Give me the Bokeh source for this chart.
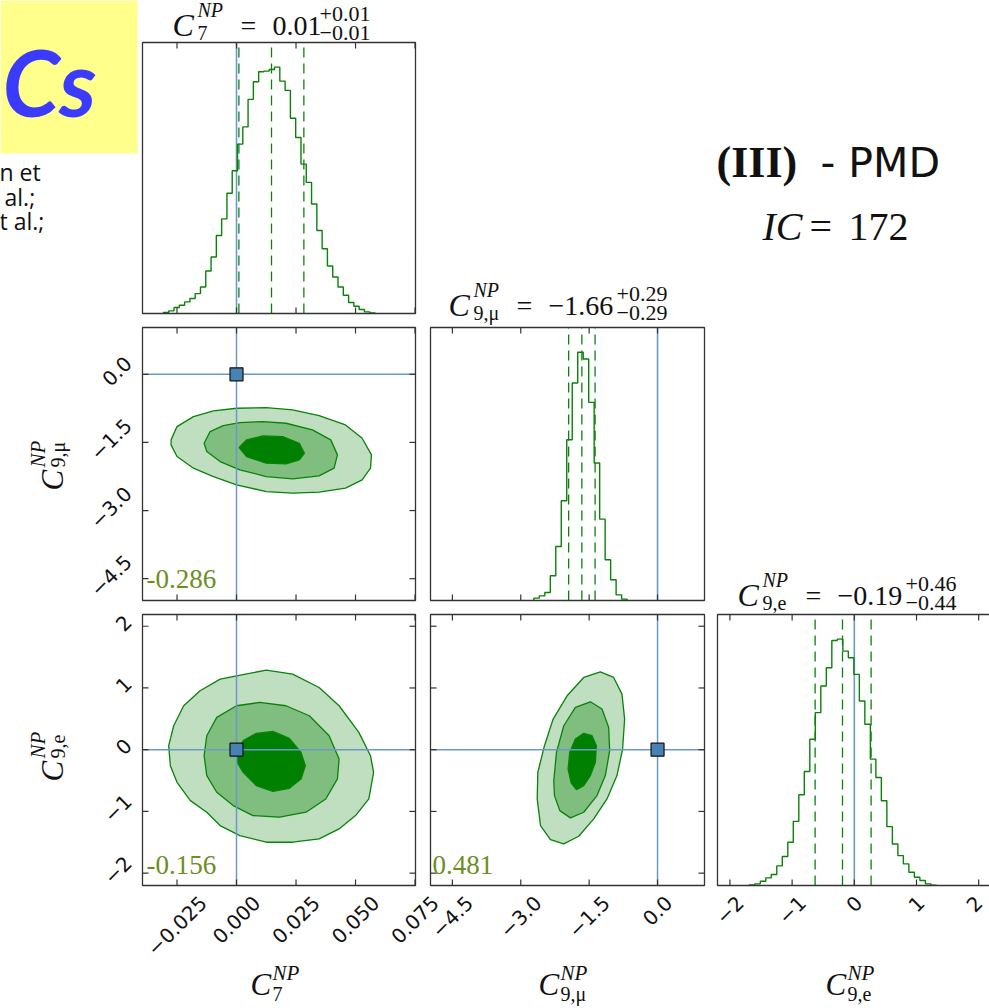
import math
import numpy as np
from bokeh.plotting import figure
from bokeh.models import Range1d, Label
from bokeh.embed import file_html
from bokeh.resources import INLINE

# ---------------------------------------------------------------- data
truth_c7 = 0.0
truth_c9mu = 0.0
truth_c9e = 0.0

c7_range = (-0.0395, 0.0752)
c9mu_range = (-4.98, 1.03)
c9e_range = (-2.20, 2.19)

c7_ticks = [-0.025, 0.0, 0.025, 0.05, 0.075]
c7_tick_labels = ["−0.025", "0.000", "0.025", "0.050", "0.075"]
c9mu_ticks = [-4.5, -3.0, -1.5, 0.0]
c9mu_tick_labels = ["−4.5", "−3.0", "−1.5", "0.0"]
c9e_ticks = [-2, -1, 0, 1, 2]
c9e_tick_labels = ["−2", "−1", "0", "1", "2"]

# 1-D marginal histograms (bin span and relative counts)
c7_hist_lo, c7_hist_hi = -0.0307, 0.0582
c7_hist = [3, 8, 18, 25, 35, 45, 60, 80, 128, 170, 235, 285, 362, 430, 510, 562,
           645, 698, 728, 730, 735, 742, 700, 672, 588, 530, 450, 395, 330, 250,
           195, 143, 110, 80, 55, 33, 22, 12, 5, 2]
c7_quantiles = [0.001, 0.0147, 0.0283]

c9mu_hist_lo, c9mu_hist_hi = -2.713, -0.668
c9mu_hist = [7, 14, 24, 74, 162, 299, 482, 652, 744, 724, 594, 412, 244, 122, 62, 17, 4]
c9mu_quantiles = [-1.95, -1.66, -1.37]

c9e_hist_lo, c9e_hist_hi = -1.689, 1.320
c9e_hist = [2, 5, 13, 23, 33, 59, 87, 130, 193, 273, 343, 440, 520, 600, 655, 737,
            741, 705, 685, 635, 555, 485, 380, 325, 255, 177, 125, 90, 65, 40, 25,
            15, 5, 1]
c9e_quantiles = [-0.63, -0.19, 0.27]

# titles (median, +err, -err)
c7_title = ("0.01", "+0.01", "−0.01")
c9mu_title = ("−1.66", "+0.29", "−0.29")
c9e_title = ("−0.19", "+0.46", "−0.44")

# correlation coefficients
corr_c7_c9mu = "-0.286"
corr_c7_c9e = "-0.156"
corr_c9mu_c9e = "0.481"

# 2-D credible contours (outer, middle, inner)  -- C9mu vs C7
c7_c9mu_outer_x = [-0.0275, -0.0250, -0.0181, -0.0097, 0.0, 0.0125, 0.0236, 0.0347, 0.0458,
                   0.0528, 0.0567, 0.0563, 0.0528, 0.0458, 0.0347, 0.0236, 0.0125, 0.0,
                   -0.0097, -0.0181, -0.0250, -0.0275]
c7_c9mu_outer_y = [-1.444, -1.151, -0.931, -0.806, -0.748, -0.733, -0.784, -0.909, -1.114,
                   -1.408, -1.774, -2.067, -2.324, -2.507, -2.595, -2.617, -2.581, -2.434,
                   -2.251, -2.067, -1.811, -1.554]
c7_c9mu_mid_x = [-0.0136, -0.0111, -0.0056, 0.0014, 0.0111, 0.0208, 0.0319, 0.0396, 0.0424,
                 0.0410, 0.0347, 0.0236, 0.0125, 0.0014, -0.0069, -0.0125]
c7_c9mu_mid_y = [-1.518, -1.261, -1.129, -1.063, -1.041, -1.078, -1.224, -1.444, -1.774,
                 -2.067, -2.236, -2.302, -2.251, -2.104, -1.921, -1.701]
c7_c9mu_in_x = [0.0011, 0.0042, 0.0111, 0.0194, 0.0264, 0.0285, 0.0264, 0.0208, 0.0125, 0.0042]
c7_c9mu_in_y = [-1.613, -1.444, -1.356, -1.371, -1.518, -1.738, -1.884, -1.972, -1.957, -1.811]

# C9e vs C7
c7_c9e_outer_x = [-0.0285, -0.0264, -0.0222, -0.0153, -0.0069, 0.0, 0.0125, 0.0236, 0.0347,
                  0.0431, 0.0514, 0.0563, 0.0576, 0.0556, 0.0500, 0.0431, 0.0347, 0.0236,
                  0.0125, 0.0014, -0.0069, -0.0125, -0.0194, -0.0250, -0.0278]
c7_c9e_outer_y = [0.065, 0.388, 0.712, 0.954, 1.143, 1.197, 1.288, 1.224, 1.008, 0.712, 0.280,
                  -0.097, -0.367, -0.798, -1.067, -1.283, -1.445, -1.499, -1.499, -1.391,
                  -1.229, -1.013, -0.825, -0.528, -0.259]
c7_c9e_mid_x = [-0.0136, -0.0125, -0.0083, 0.0, 0.0097, 0.0208, 0.0306, 0.0389, 0.0431,
                0.0424, 0.0375, 0.0292, 0.0181, 0.0069, -0.0014, -0.0083, -0.0125]
c7_c9e_mid_y = [-0.097, 0.226, 0.523, 0.712, 0.765, 0.712, 0.550, 0.226, -0.151, -0.474,
                -0.798, -1.013, -1.094, -1.067, -0.906, -0.690, -0.420]
c7_c9e_in_x = [0.0003, 0.0028, 0.0083, 0.0153, 0.0222, 0.0271, 0.0289, 0.0271, 0.0222,
               0.0153, 0.0083, 0.0028, 0.0003]
c7_c9e_in_y = [-0.043, 0.146, 0.264, 0.296, 0.183, -0.043, -0.259, -0.474, -0.625, -0.674,
               -0.582, -0.367, -0.205]

# C9e vs C9mu
c9mu_c9e_outer_x = [-2.640, -2.626, -2.480, -2.290, -1.984, -1.619, -1.255, -0.963, -0.780,
                    -0.722, -0.766, -0.890, -1.109, -1.400, -1.729, -2.057, -2.349, -2.567]
c9mu_c9e_outer_y = [-0.798, -0.367, 0.065, 0.496, 0.873, 1.170, 1.261, 1.170, 0.900, 0.496,
                    0.011, -0.420, -0.798, -1.121, -1.402, -1.526, -1.456, -1.229]
c9mu_c9e_mid_x = [-2.276, -2.217, -2.057, -1.802, -1.473, -1.218, -1.072, -1.050, -1.145,
                  -1.328, -1.619, -1.911, -2.144, -2.261]
c9mu_c9e_mid_y = [-0.501, -0.043, 0.388, 0.685, 0.776, 0.658, 0.361, -0.016, -0.420, -0.744,
                  -1.013, -1.105, -0.987, -0.744]
c9mu_c9e_in_x = [-1.962, -1.926, -1.802, -1.619, -1.437, -1.342, -1.364, -1.473, -1.619,
                 -1.780, -1.896]
c9mu_c9e_in_y = [-0.313, -0.043, 0.173, 0.264, 0.226, 0.065, -0.205, -0.420, -0.582, -0.647,
                 -0.539]

# ---------------------------------------------------------------- style
GREEN = "#0a820a"
LIGHT = "#c0dec0"
MID = "#80be80"
DARK = "#008000"
TRUTH = "#6b9ac4"
FRAME = "#333333"
CORR = "#6b8e23"
SERIF = "Liberation Serif"
SANS = "DejaVu Sans"
TICK_FS = 20
W, H = 989, 1008

CW = {".": 0.318, "−": 0.838}
MIDK = {SERIF: 0.34, SANS: 0.35, "Lato": 0.38, "Open Sans": 0.37}


def tlen(s, f):
    return sum(CW.get(c, 0.636) for c in s) * f


# one page-sized canvas; each corner panel gets its own pair of scales
p = figure(width=W, height=H, x_range=Range1d(0, W), y_range=Range1d(H, 0),
           output_backend="svg", toolbar_location=None,
           x_axis_type=None, y_axis_type=None, min_border=0)
p.outline_line_color = None
p.background_fill_color = "white"
p.border_fill_color = "white"


class Panel:
    def __init__(self, name, box, xr, yr):
        L, R, T, B = box
        self.box, self.xr, self.yr = box, xr, yr
        sx = (xr[1] - xr[0]) / (R - L)
        sy = (yr[1] - yr[0]) / (B - T)
        self.xn, self.yn = name + "_x", name + "_y"
        p.extra_x_ranges[self.xn] = Range1d(xr[0] - L * sx, xr[0] + (W - L) * sx)
        p.extra_y_ranges[self.yn] = Range1d(yr[0] + (B - H) * sy, yr[0] + B * sy)
        self.kw = dict(x_range_name=self.xn, y_range_name=self.yn)

    def px(self, v):
        L, R = self.box[0], self.box[1]
        return L + (v - self.xr[0]) / (self.xr[1] - self.xr[0]) * (R - L)

    def frame(self):
        p.quad(left=[self.xr[0]], right=[self.xr[1]], bottom=[self.yr[0]], top=[self.yr[1]],
               fill_color=None, line_color=FRAME, line_width=1.3, **self.kw)

    def xticks(self, ticks):
        n = len(ticks)
        p.ray(x=ticks, y=[self.yr[0]] * n, length=6, length_units="screen",
              angle=math.pi / 2, line_color=FRAME, line_width=1.2, **self.kw)
        p.ray(x=ticks, y=[self.yr[1]] * n, length=6, length_units="screen",
              angle=-math.pi / 2, line_color=FRAME, line_width=1.2, **self.kw)

    def yticks(self, ticks):
        n = len(ticks)
        p.ray(x=[self.xr[0]] * n, y=ticks, length=6, length_units="screen",
              angle=0.0, line_color=FRAME, line_width=1.2, **self.kw)
        p.ray(x=[self.xr[1]] * n, y=ticks, length=6, length_units="screen",
              angle=math.pi, line_color=FRAME, line_width=1.2, **self.kw)

    def bottom_labels(self, ticks, labels):
        B = self.box[3]
        for t, s in zip(ticks, labels):
            L = tlen(s, TICK_FS)
            Yc = B + 9 + 0.707 * (L + 0.73 * TICK_FS) / 2
            half = 0.707 * (L + 1.2 * TICK_FS) / 2
            over = self.px(t) + half - (W - 2)
            p.add_layout(Label(x=t, y=Yc, x_range_name=self.xn, text=s,
                               angle=math.pi / 4, text_align="center",
                               text_baseline="middle", text_font=SANS,
                               text_font_size=f"{TICK_FS}px", text_color="#111111",
                               x_offset=-over if over > 0 else 0))

    def left_labels(self, ticks, labels):
        Lx = self.box[0]
        for t, s in zip(ticks, labels):
            L = tlen(s, TICK_FS)
            Xc = Lx - 9 - 0.707 * (L + 0.73 * TICK_FS) / 2
            p.add_layout(Label(x=Xc, y=t, y_range_name=self.yn, text=s,
                               angle=math.pi / 4, text_align="center",
                               text_baseline="middle", text_font=SANS,
                               text_font_size=f"{TICK_FS}px", text_color="#111111",
                               y_offset=3))


def text(s, X, Y, size, font=SERIF, style="normal", color="#111111", rotated=False):
    """(X, Y) is the start of the alphabetic baseline, in page pixels."""
    k = MIDK.get(font, 0.35) * size
    if rotated:
        X, angle = X - 0.3 * k, math.pi / 2
    else:
        Y, angle = Y - k, 0.0
    p.add_layout(Label(x=X, y=Y, text=s, text_font=font, text_font_size=f"{size}px",
                       text_font_style=style, text_color=color, angle=angle,
                       text_align="left", text_baseline="middle"))


def draw_hist(pan, lo, hi, heights, quants, truth):
    edges = np.linspace(lo, hi, len(heights) + 1)
    xs = np.concatenate([[edges[0]], edges])
    ys = np.concatenate([[0], heights, [0]])
    top = pan.yr[1]
    p.segment(x0=[truth], y0=[0], x1=[truth], y1=[top], line_color=TRUTH,
              line_width=1.6, **pan.kw)
    p.step(xs, ys, mode="after", line_color=GREEN, line_width=1.4, **pan.kw)
    n = len(quants)
    p.segment(x0=quants, y0=[0] * n, x1=quants, y1=[top] * n, line_color=GREEN,
              line_width=1.3, line_dash="10 6", **pan.kw)


def draw_2d(pan, contours, tx, ty):
    for (cx, cy), col in zip(contours, [LIGHT, MID, DARK]):
        p.patch(cx, cy, fill_color=col, line_color=GREEN, line_width=1.3, **pan.kw)
    p.segment(x0=[tx, pan.xr[0]], y0=[pan.yr[0], ty], x1=[tx, pan.xr[1]],
              y1=[pan.yr[1], ty], line_color=TRUTH, line_width=1.5, **pan.kw)
    p.scatter([tx], [ty], marker="square", size=13, fill_color="#4682b4",
              line_color="#111111", line_width=1.2, **pan.kw)


def title_math(X, Y, sub, vals):
    main, up, lo = vals
    text("C", X, Y, 32, style="italic")
    text("NP", X + 25, Y - 19, 20, style="italic")
    text(sub, X + 25, Y + 4, 20)
    text("=", X + 68, Y, 28)
    text(main, X + 100, Y, 28)
    xs = X + 100 + (47 if main[0] != "−" else 68)
    text(up, xs, Y - 14, 22)
    text(lo, xs, Y + 5, 22)


def axis_math(X, Y, sub):
    text("C", X, Y, 31, style="italic")
    text("NP", X + 22, Y - 15, 21, style="italic")
    text(sub, X + 22, Y + 5, 20)


def axis_math_rot(X, Y, sub):
    text("C", X, Y, 31, style="italic", rotated=True)
    text("NP", X - 15, Y - 23, 21, style="italic", rotated=True)
    text(sub, X + 5, Y - 23, 20, rotated=True)


# ---------------------------------------------------------------- panels
y_c7 = (0, 1.1 * max(c7_hist))
y_c9mu = (0, 1.1 * max(c9mu_hist))
y_c9e = (0, 1.1 * max(c9e_hist))

P11 = Panel("p11", (142, 415, 42, 313), c7_range, y_c7)
P21 = Panel("p21", (142, 415, 327, 600), c7_range, c9mu_range)
P31 = Panel("p31", (142, 415, 614, 885), c7_range, c9e_range)
P22 = Panel("p22", (430, 704, 327, 600), c9mu_range, y_c9mu)
P32 = Panel("p32", (430, 704, 614, 885), c9mu_range, c9e_range)
P33 = Panel("p33", (717, 990, 614, 885), c9e_range, y_c9e)

# slide fragment at top-left
p.quad(left=[0], right=[137], top=[0], bottom=[153], fill_color="#ffff8c", line_color=None)
text("Cs", 2, 116, 92, font="Lato", style="bold italic", color="#3b3bff")
text("n et", -1, 180, 23, font="Open Sans")
text("al.;", 4, 205, 23, font="Open Sans")
text("t al.;", -1, 229, 23, font="Open Sans")

# histograms
draw_hist(P11, c7_hist_lo, c7_hist_hi, c7_hist, c7_quantiles, truth_c7)
draw_hist(P22, c9mu_hist_lo, c9mu_hist_hi, c9mu_hist, c9mu_quantiles, truth_c9mu)
draw_hist(P33, c9e_hist_lo, c9e_hist_hi, c9e_hist, c9e_quantiles, truth_c9e)

# 2-D panels
draw_2d(P21, [(c7_c9mu_outer_x, c7_c9mu_outer_y), (c7_c9mu_mid_x, c7_c9mu_mid_y),
              (c7_c9mu_in_x, c7_c9mu_in_y)], truth_c7, truth_c9mu)
draw_2d(P31, [(c7_c9e_outer_x, c7_c9e_outer_y), (c7_c9e_mid_x, c7_c9e_mid_y),
              (c7_c9e_in_x, c7_c9e_in_y)], truth_c7, truth_c9e)
draw_2d(P32, [(c9mu_c9e_outer_x, c9mu_c9e_outer_y), (c9mu_c9e_mid_x, c9mu_c9e_mid_y),
              (c9mu_c9e_in_x, c9mu_c9e_in_y)], truth_c9mu, truth_c9e)

# ticks and frames
P11.xticks(c7_ticks)
P22.xticks(c9mu_ticks)
P33.xticks(c9e_ticks)
for pan, xt, yt in [(P21, c7_ticks, c9mu_ticks), (P31, c7_ticks, c9e_ticks),
                    (P32, c9mu_ticks, c9e_ticks)]:
    pan.xticks(xt)
    pan.yticks(yt)
for pan in [P11, P21, P31, P22, P32, P33]:
    pan.frame()

# tick labels
P31.bottom_labels(c7_ticks, c7_tick_labels)
P32.bottom_labels(c9mu_ticks, c9mu_tick_labels)
P33.bottom_labels(c9e_ticks, c9e_tick_labels)
P21.left_labels(c9mu_ticks, c9mu_tick_labels)
P31.left_labels(c9e_ticks, c9e_tick_labels)

# correlation numbers
text(corr_c7_c9mu, 146, 588, 27, color=CORR)
text(corr_c7_c9e, 146, 874, 27, color=CORR)
text(corr_c9mu_c9e, 432, 874, 27, color=CORR)

# titles
title_math(172, 35, "7", c7_title)
title_math(448, 315, "9,μ", c9mu_title)
title_math(737, 605, "9,e", c9e_title)

# axis labels
axis_math(250, 995, "7")
axis_math(538, 995, "9,μ")
axis_math(825, 995, "9,e")
axis_math_rot(55, 490, "9,μ")
axis_math_rot(55, 781, "9,e")

# model tag
text("(III)", 716, 177, 44, style="bold")
text("- PMD", 820, 177, 41, font=SANS)
text("IC", 762, 240, 40, style="italic")
text("=", 809, 240, 40)
text("172", 848, 240, 40)

open("out.html", "w").write(file_html(p, INLINE))
